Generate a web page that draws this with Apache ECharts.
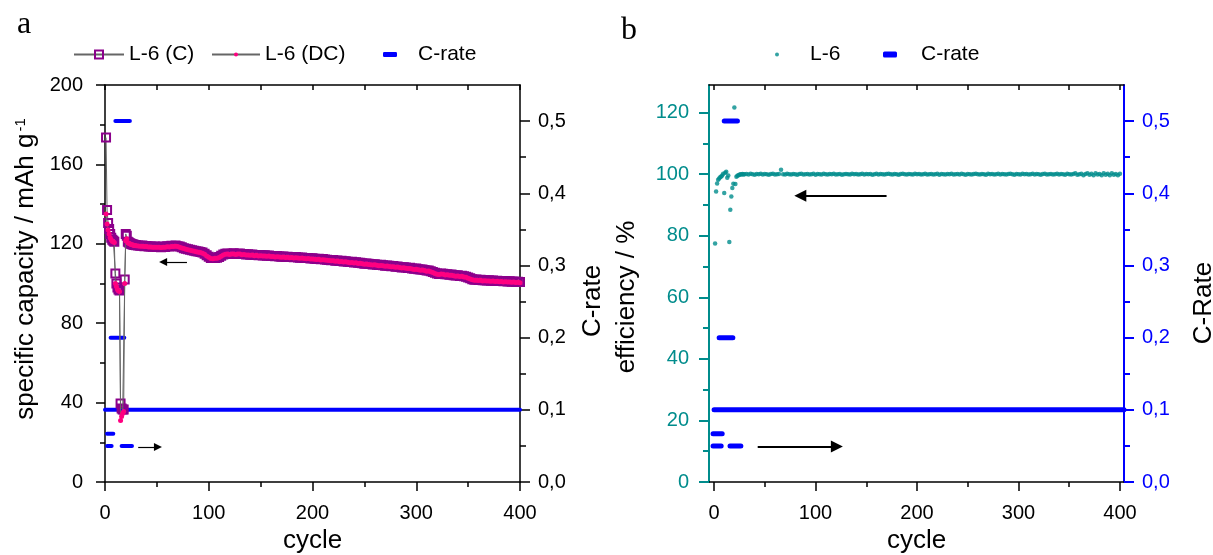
<!DOCTYPE html>
<html><head><meta charset="utf-8">
<script src="https://cdn.jsdelivr.net/npm/echarts@6/dist/echarts.min.js"></script>
<style>html,body{margin:0;padding:0;background:#fff}#c{width:1213px;height:555px}</style>
</head><body><div id="c"></div><script>
// ---------- DATA ----------
// cycles 1..30 individually, then every 2nd cycle 32..400
const earlyCycleCount = 30;
const lateCycleStart = 32, lateCycleEnd = 400, lateCycleStep = 2;

// panel a: specific capacity (mAh/g), charge (C) and discharge (DC)
const capCEarly = [173.5,137,130.5,127.5,125,123,122,121.5,121,105,100,98,97,96.5,39.5,37,36.5,36.5,102,125,124,121,120.6,120.3,120,119.8,119.7,119.5,119.4,119.3];
const capCLate = [
119.2,119.0,119.1,118.8,118.9,118.6,118.7,118.5,118.6,118.4,
118.5,118.3,118.6,118.4,118.8,118.7,119.0,118.9,119.1,118.8,
118.6,118.2,117.8,117.5,117.3,117.0,116.8,116.5,116.3,116.1,
115.9,115.6,115.0,114.2,113.5,112.9,112.8,112.9,113.0,113.4,
114.0,114.6,115.0,115.1,114.9,115.0,115.2,114.9,115.0,115.1,
114.8,114.9,114.6,114.7,114.5,114.6,114.3,114.4,114.2,114.3,
114.1,114.2,114.0,114.1,113.8,113.9,113.7,113.8,113.6,113.5,
113.6,113.4,113.5,113.3,113.4,113.2,113.3,113.1,113.0,113.1,
112.9,112.8,112.9,112.6,112.7,112.5,112.4,112.5,112.2,112.3,
112.1,112.0,111.9,111.7,111.8,111.5,111.6,111.3,111.4,111.1,
111.2,111.0,110.8,110.9,110.6,110.7,110.4,110.5,110.2,110.0,
110.1,109.9,109.8,109.6,109.7,109.5,109.3,109.4,109.2,109.0,
109.1,108.9,108.7,108.8,108.5,108.6,108.3,108.1,108.2,108.0,
107.8,107.9,107.6,107.4,107.5,107.2,107.0,107.1,106.8,106.5,
106.6,106.2,105.8,105.4,105.0,104.8,105.1,104.9,104.6,104.7,
104.4,104.5,104.2,104.0,104.1,103.8,103.9,103.6,103.4,103.0,
102.6,102.2,101.9,102.0,101.8,101.9,101.6,101.7,101.5,101.6,
101.4,101.5,101.3,101.4,101.2,101.3,101.1,101.2,101.0,101.1,
100.9,101.0,100.8,100.9,100.7];
const capDCEarly = [135,130,127,125,123,122,121.3,121,120.6,100,98.5,97,96.3,96,31,33,34.5,35.5,100,121.5,122.5,120.5,120.3,120,119.7,119.5,119.4,119.2,119.1,119];
const capDCLate = [
118.9,118.8,118.8,118.6,118.6,118.4,118.4,118.3,118.3,118.2,
118.2,118.1,118.3,118.2,118.5,118.4,118.7,118.7,118.8,118.6,
118.3,117.9,117.6,117.2,117.0,116.8,116.5,116.3,116.0,115.8,
115.6,115.3,114.7,113.9,113.2,112.6,112.5,112.7,112.7,113.1,
113.7,114.3,114.7,114.8,114.6,114.8,114.9,114.6,114.8,114.8,
114.5,114.6,114.4,114.4,114.2,114.3,114.0,114.2,113.9,114.0,
113.8,113.9,113.7,113.8,113.6,113.6,113.4,113.5,113.3,113.2,
113.3,113.1,113.2,113.0,113.1,112.9,113.0,112.8,112.7,112.8,
112.6,112.5,112.6,112.3,112.4,112.2,112.1,112.2,111.9,112.0,
111.8,111.7,111.6,111.4,111.5,111.2,111.3,111.0,111.1,110.8,
110.9,110.7,110.5,110.6,110.3,110.4,110.1,110.2,109.9,109.7,
109.8,109.6,109.5,109.3,109.4,109.2,109.0,109.1,108.9,108.7,
108.8,108.6,108.4,108.5,108.2,108.3,108.0,107.8,107.9,107.7,
107.5,107.6,107.3,107.1,107.2,106.9,106.7,106.8,106.5,106.2,
106.3,105.9,105.5,105.1,104.7,104.5,104.8,104.6,104.3,104.4,
104.1,104.2,103.9,103.7,103.8,103.5,103.6,103.3,103.1,102.7,
102.3,101.9,101.6,101.7,101.5,101.6,101.3,101.4,101.2,101.3,
101.1,101.2,101.0,101.1,100.9,101.0,100.8,100.9,100.7,100.8,
100.6,100.7,100.5,100.6,100.4];

// panel b: coulombic efficiency (%)
const effEarly = [77.5,94.4,97,98.2,98.6,99,99.3,99.6,100.2,93.9,100.5,100.8,98.9,99.6,78,88.5,92.8,95.5,96.9,121.7,96.8,99.2,99.5,99.7,99.8,100,99.9,100.1,99.9,100];
const effLate = [
100.1,99.9,100.2,100.0,99.8,100.1,100.0,100.2,99.9,100.1,
100.0,99.8,100.1,100.2,99.9,100.0,100.1,101.5,100.0,99.9,
100.2,100.0,99.9,100.1,100.0,99.8,100.1,100.2,99.9,100.0,
100.1,99.9,100.0,100.2,99.8,100.1,100.0,99.9,100.2,100.0,
99.9,100.1,100.0,100.2,99.9,100.0,100.1,99.8,100.0,100.1,
100.0,99.9,100.2,100.0,100.1,99.9,100.0,100.2,99.9,100.1,
100.0,100.1,99.8,100.0,100.2,99.9,100.1,100.0,99.9,100.1,
100.2,100.0,99.9,100.1,100.0,99.8,100.1,100.2,100.0,99.9,
100.1,100.0,99.9,100.2,100.0,100.1,99.9,100.0,100.2,99.9,
100.0,100.1,99.9,100.0,100.2,99.8,100.1,100.0,99.9,100.1,
100.0,100.2,99.9,100.0,100.1,99.9,100.2,100.0,99.8,100.1,
100.0,99.9,100.1,100.2,100.0,99.9,100.1,100.0,99.8,100.2,
100.0,100.1,99.9,100.0,100.2,99.9,100.1,100.0,99.9,100.1,
100.2,100.0,99.8,100.1,100.0,99.9,100.2,100.0,100.1,99.9,
100.0,100.2,99.9,100.1,100.0,99.8,100.1,100.2,99.9,100.0,
100.1,99.9,100.0,100.2,99.9,100.1,100.0,99.8,100.2,100.0,
99.9,100.1,100.3,99.8,100.0,100.2,99.7,100.1,100.3,99.8,
100.2,99.7,100.3,99.9,100.1,99.7,100.3,99.8,100.2,99.7,
100.3,99.8,100.1,99.7,100.2];

// C-rate steps: [start cycle, end cycle, rate]
const crateStepsA = [[2,8,0.067],[2,6.4,0.05],[16,26,0.05],[5.4,18.6,0.2],[10,24,0.5],[0,400,0.1]];
const crateStepsB = [[-1,8,0.067],[-1,7,0.05],[15.7,26.4,0.05],[5,18.5,0.2],[10,23,0.5],[0,404,0.1]];

// annotation arrows: [x from, y from, x to, y to] (arrow head at "to")
const arrowsA = [[79,110.8,56,110.8],[32,17.6,51,17.6]];
const arrowsB = [[170,93,85,93],[43,11.5,121,11.5]];

// tick labels
const crateTicks = [0,0.1,0.2,0.3,0.4,0.5];
const crateMinor = [0.05,0.15,0.25,0.35,0.45];
const effTicks = [0,20,40,60,80,100,120];
const effMinor = [10,30,50,70,90,110];
const cycleTicks = [0,100,200,300,400];
const cycleMinor = [50,150,250,350];
const cycleTop = [0,50,100,150,200,250,300,350,400];

// ---------- BUILD ----------
const cycles = [];
for (let i = 1; i <= earlyCycleCount; i++) cycles.push(i);
for (let c = lateCycleStart; c <= lateCycleEnd; c += lateCycleStep) cycles.push(c);
const capC = capCEarly.concat(capCLate);
const capDC = capDCEarly.concat(capDCLate);
const eff = effEarly.concat(effLate);
const pairs = arr => cycles.map((c, i) => [c, arr[i]]);

const FONT = '"Liberation Sans", Arial, sans-serif';
const BLACK = '#000', TEAL = '#008C8C', BLUE = '#0000FF', PURPLE = '#8B008B', PINK = '#FF0080';
const comma = v => v.toFixed(1).replace('.', ',');

function arrowMark(list, color, size, width) {
  return {
    silent: true, symbol: ['none', 'triangle'], symbolSize: size,
    label: {show: false}, lineStyle: {color: color, width: width, type: 'solid'},
    data: list.map(a => [{coord: [a[0], a[1]]}, {coord: [a[2], a[3]]}])
  };
}

const series = [];
crateStepsA.forEach(s => series.push({
  name: 'C-rate', type: 'line', xAxisIndex: 0, yAxisIndex: 1, symbol: 'none',
  lineStyle: {color: BLUE, width: 4, cap: 'round'}, itemStyle: {color: BLUE},
  data: [[s[0], s[2]], [s[1], s[2]]], z: 2
}));
series.push({
  name: 'L-6 (C)', type: 'line', xAxisIndex: 0, yAxisIndex: 0,
  symbol: 'rect', symbolSize: 8,
  itemStyle: {color: 'rgba(0,0,0,0)', borderColor: PURPLE, borderWidth: 2},
  lineStyle: {color: '#666', width: 1}, data: pairs(capC), z: 3,
  markLine: arrowMark(arrowsA, BLACK, 8, 1.2)
});
series.push({
  name: 'L-6 (DC)', type: 'line', xAxisIndex: 0, yAxisIndex: 0,
  symbol: 'circle', symbolSize: 5,
  itemStyle: {color: PINK}, lineStyle: {color: '#666', width: 1}, data: pairs(capDC), z: 4
});
crateStepsB.forEach(s => series.push({
  name: 'C-rate', type: 'line', xAxisIndex: 2, yAxisIndex: 5, symbol: 'none',
  lineStyle: {color: BLUE, width: 5, cap: 'round'}, itemStyle: {color: BLUE},
  data: [[s[0], s[2]], [s[1], s[2]]], z: 2
}));
series.push({
  name: 'L-6', type: 'scatter', xAxisIndex: 2, yAxisIndex: 3,
  symbol: 'circle', symbolSize: 4.5, itemStyle: {color: TEAL}, data: pairs(eff), z: 3,
  markLine: arrowMark(arrowsB, BLACK, 12, 2)
});

function legend(name, left, w, h, icon, padLeft) {
  const d = icon ? {name: name, icon: icon} : {name: name};
  return {
    data: [d], left: left, top: 44, padding: 0, itemWidth: w, itemHeight: h,
    selectedMode: false,
    textStyle: {fontFamily: FONT, fontSize: 21, color: BLACK, padding: [0, 0, 0, padLeft || 0]}
  };
}

const lblStyle = (color) => ({fontFamily: FONT, fontSize: 20, color: color});
const nameStyle = (pad, extra) => Object.assign({fontFamily: FONT, fontSize: 26, color: BLACK, padding: pad}, extra || {});
const line = (color, w) => ({show: true, onZero: false, lineStyle: {color: color, width: w}});

const option = {
  animation: false,
  backgroundColor: '#fff',
  graphic: [
    {type: 'text', left: 17, top: 9, style: {text: 'a', font: '32px "Liberation Serif", "Times New Roman", serif', fill: BLACK}},
    {type: 'text', left: 621, top: 15, style: {text: 'b', font: '32px "Liberation Serif", "Times New Roman", serif', fill: BLACK}}
  ],
  legend: [
    legend('L-6 (C)', 73, 50, 10),
    legend('L-6 (DC)', 211, 48, 5),
    legend('C-rate', 383, 14, 5, 'roundRect', 16),
    legend('L-6', 775, 10, 4, 'circle', 23),
    legend('C-rate', 883, 14, 6, 'roundRect', 19)
  ],
  grid: [
    {left: 105, right: 693, top: 85, bottom: 73, outerBoundsMode: 'none', containLabel: false},
    {left: 709, right: 89, top: 85, bottom: 73, outerBoundsMode: 'none', containLabel: false}
  ],
  xAxis: [
    {gridIndex: 0, type: 'value', position: 'bottom', min: 0, max: 400, interval: 100,
     axisLine: line(BLACK, 1.5),
     axisTick: {length: 9, lineStyle: {color: BLACK, width: 1.5}},
     minorTick: {show: true, splitNumber: 2, length: 5, lineStyle: {color: BLACK, width: 1.5}},
     axisLabel: Object.assign(lblStyle(BLACK), {margin: 21}),
     splitLine: {show: false},
     name: 'cycle', nameLocation: 'middle', nameGap: 40, nameTextStyle: nameStyle(0)},
    {gridIndex: 0, type: 'value', position: 'top', min: 0, max: 400, interval: 50,
     axisLine: line(BLACK, 1.5),
     axisTick: {inside: true, length: 5, lineStyle: {color: BLACK, width: 1.5}},
     axisLabel: {show: false}, splitLine: {show: false}},
    {gridIndex: 1, type: 'value', position: 'bottom', min: -5, max: 404,
     axisLine: line(BLACK, 1.5),
     axisTick: {length: 9, customValues: cycleTicks, lineStyle: {color: BLACK, width: 1.5}},
     axisLabel: Object.assign(lblStyle(BLACK), {margin: 21, customValues: cycleTicks}),
     splitLine: {show: false},
     name: 'cycle', nameLocation: 'middle', nameGap: 43, nameTextStyle: nameStyle(0)},
    {gridIndex: 1, type: 'value', position: 'bottom', min: -5, max: 404,
     axisLine: {show: false, onZero: false},
     axisTick: {length: 5, customValues: cycleMinor, lineStyle: {color: BLACK, width: 1.5}},
     axisLabel: {show: false}, splitLine: {show: false}},
    {gridIndex: 1, type: 'value', position: 'top', min: -5, max: 404,
     axisLine: line(BLACK, 1.5),
     axisTick: {inside: true, length: 5, customValues: cycleTop, lineStyle: {color: BLACK, width: 1.5}},
     axisLabel: {show: false}, splitLine: {show: false}}
  ],
  yAxis: [
    {gridIndex: 0, type: 'value', position: 'left', min: 0, max: 200, interval: 40,
     axisLine: line(BLACK, 1.5),
     axisTick: {show: true, length: 9, lineStyle: {color: BLACK, width: 1.5}},
     minorTick: {show: true, splitNumber: 2, length: 5, lineStyle: {color: BLACK, width: 1.5}},
     axisLabel: Object.assign(lblStyle(BLACK), {margin: 22}),
     splitLine: {show: false},
     name: 'specific capacity / mAh g{sup|-1}', nameLocation: 'middle', nameGap: 66,
     nameTextStyle: nameStyle([0, 0, 0, 29], {rich: {sup: {fontFamily: FONT, fontSize: 15, color: BLACK, verticalAlign: 'top', padding: [0, 0, 10, 2]}}})},
    {gridIndex: 0, type: 'value', position: 'right', min: 0, max: 0.55,
     axisLine: line(BLACK, 1.5),
     axisTick: {show: true, length: 10, customValues: crateTicks, lineStyle: {color: BLACK, width: 1.5}},
     axisLabel: Object.assign(lblStyle(BLACK), {margin: 18, customValues: crateTicks, formatter: comma}),
     splitLine: {show: false},
     name: 'C-rate', nameLocation: 'middle', nameGap: 60, nameTextStyle: nameStyle([0, 35, 0, 0])},
    {gridIndex: 0, type: 'value', position: 'right', min: 0, max: 0.55,
     axisLine: {show: false, onZero: false},
     axisTick: {show: true, length: 6, customValues: crateMinor, lineStyle: {color: BLACK, width: 1.5}},
     axisLabel: {show: false}, splitLine: {show: false}},
    {gridIndex: 1, type: 'value', position: 'left', min: 0, max: 129,
     axisLine: line(TEAL, 2),
     axisTick: {show: true, length: 10, customValues: effTicks, lineStyle: {color: TEAL, width: 2}},
     axisLabel: Object.assign(lblStyle(TEAL), {margin: 20, customValues: effTicks}),
     splitLine: {show: false},
     name: 'efficiency / %', nameLocation: 'middle', nameGap: 69, nameTextStyle: nameStyle([0, 27, 0, 0])},
    {gridIndex: 1, type: 'value', position: 'left', min: 0, max: 129,
     axisLine: {show: false, onZero: false},
     axisTick: {show: true, length: 6, customValues: effMinor, lineStyle: {color: TEAL, width: 2}},
     axisLabel: {show: false}, splitLine: {show: false}},
    {gridIndex: 1, type: 'value', position: 'right', min: 0, max: 0.55,
     axisLine: line(BLUE, 2),
     axisTick: {show: true, length: 10, customValues: crateTicks, lineStyle: {color: BLUE, width: 2}},
     axisLabel: Object.assign(lblStyle(BLUE), {margin: 18, customValues: crateTicks, formatter: comma}),
     splitLine: {show: false},
     name: 'C-Rate', nameLocation: 'middle', nameGap: 67, nameTextStyle: nameStyle([0, 39, 0, 0])},
    {gridIndex: 1, type: 'value', position: 'right', min: 0, max: 0.55,
     axisLine: {show: false, onZero: false},
     axisTick: {show: true, length: 6, customValues: crateMinor, lineStyle: {color: BLUE, width: 2}},
     axisLabel: {show: false}, splitLine: {show: false}}
  ],
  series: series
};

const chart = echarts.init(document.getElementById('c'), null, {renderer: 'canvas'});
chart.setOption(option);
</script></body></html>
